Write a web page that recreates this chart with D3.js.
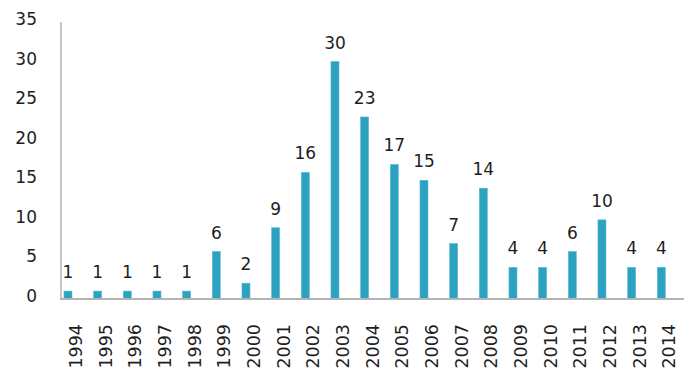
<!DOCTYPE html>
<html>
<head>
<meta charset="utf-8">
<script src="https://cdn.jsdelivr.net/npm/d3@7"></script>
<style>
  body { margin: 0; background: #fff; }
  text { font-family: "DejaVu Sans", sans-serif; fill: #1e1e1e; }
</style>
</head>
<body>
<div id="chart"></div>
<script>
const WIDTH = 700;
const HEIGHT = 375;

const years = ["1994", "1995", "1996", "1997", "1998", "1999", "2000", "2001", "2002", "2003",
    "2004", "2005", "2006", "2007", "2008", "2009", "2010", "2011", "2012", "2013", "2014"];
const counts = [1, 1, 1, 1, 1, 6, 2, 9, 16, 30, 23, 17, 15, 7, 14, 4, 4, 6, 10, 4, 4];
const yTicks = [0, 5, 10, 15, 20, 25, 30, 35];

const data = years.map((y, i) => ({ year: y, value: counts[i] }));

var svg = d3.select("#chart")
    .append("svg")
    .attr("width", WIDTH)
    .attr("height", HEIGHT);

var x_scale = d3.scaleBand()
    .domain(years)
    .range([61, 684])
    .padding(0);

var y_scale = d3.scaleLinear()
    .domain([0, 35])
    .range([299, 22]);

// y tick labels (no tick marks)
svg.selectAll(".ytick")
    .data(yTicks)
    .enter()
    .append("text")
    .attr("class", "ytick")
    .attr("x", 37)
    .attr("y", (d) => y_scale(d) - 3)
    .attr("dy", "0.35em")
    .attr("text-anchor", "end")
    .style("font-size", "17px")
    .text((d) => d);

// bars, shifted left inside each band
var bw = x_scale.bandwidth();
svg.selectAll("rect.bar")
    .data(data)
    .enter()
    .append("rect")
    .attr("class", "bar")
    .attr("x", (d) => x_scale(d.year) + bw * 0.1)
    .attr("width", bw * 0.27)
    .attr("y", (d) => y_scale(d.value))
    .attr("height", (d) => y_scale(0) - y_scale(d.value))
    .style("fill", "#2aa2c0")
    .style("stroke", "#5bbbd3")
    .style("stroke-width", 0.6);

// value labels
svg.selectAll(".vlabel")
    .data(data)
    .enter()
    .append("text")
    .attr("class", "vlabel")
    .attr("x", (d) => x_scale(d.year) + bw * 0.1 + bw * 0.135)
    .attr("y", (d) => y_scale(d.value) - 13)
    .attr("text-anchor", "middle")
    .style("font-size", "17px")
    .text((d) => d.value);

// axis lines
svg.append("line")
    .attr("x1", 61).attr("x2", 61)
    .attr("y1", 22).attr("y2", y_scale(0))
    .style("stroke", "#b4b4b4")
    .style("stroke-width", 1.5);

svg.append("line")
    .attr("x1", 60).attr("x2", 684)
    .attr("y1", y_scale(0)).attr("y2", y_scale(0))
    .style("stroke", "#b4b4b4")
    .style("stroke-width", 1.8);

// rotated year labels
svg.selectAll(".xlabel")
    .data(years)
    .enter()
    .append("text")
    .attr("class", "xlabel")
    .attr("transform", (d) => "translate(" + (x_scale(d) + bw / 2) + ",324) rotate(-90)")
    .attr("dy", "0.35em")
    .attr("text-anchor", "end")
    .style("font-size", "17.5px")
    .text((d) => d);
</script>
</body>
</html>
